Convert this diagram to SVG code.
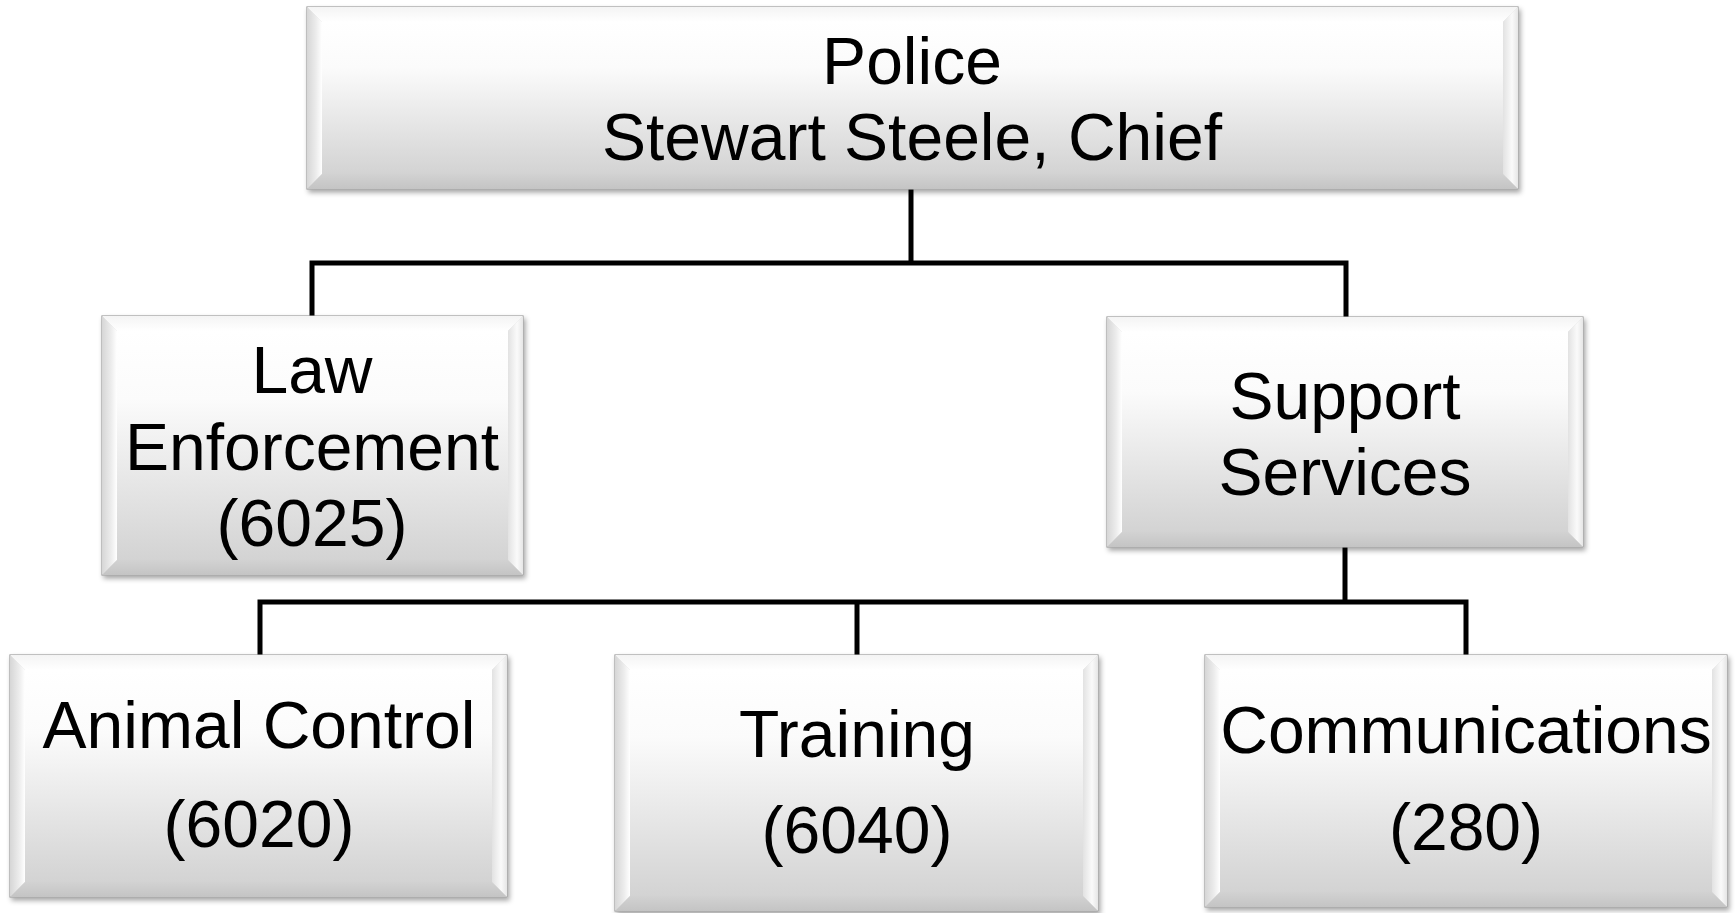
<svg xmlns="http://www.w3.org/2000/svg" width="1735" height="913" viewBox="0 0 1735 913">
<defs>
<style>
.face{fill:url(#gFace)}
.outer{fill:#dcdcdc;stroke:#9c9c9c;stroke-width:1.2;filter:url(#sh)}
.bt{fill:url(#gTop)}
.bl{fill:url(#gLeft)}
.br{fill:url(#gRight)}
.bb{fill:url(#gBot)}
.lbl{font-family:"Liberation Sans",Arial,sans-serif;font-size:66px;fill:#000;text-anchor:middle}
.conn{fill:none;stroke:#000;stroke-width:5;stroke-linejoin:miter;stroke-linecap:butt}
</style>
<filter id="sh" x="-5%" y="-5%" width="110%" height="115%">
<feDropShadow dx="2" dy="3" stdDeviation="2.5" flood-color="#000" flood-opacity="0.35"/>
</filter>
<linearGradient id="gFace" x1="0" y1="0" x2="0" y2="1">
<stop offset="0" stop-color="#ffffff"/>
<stop offset="0.3" stop-color="#fbfbfb"/>
<stop offset="1" stop-color="#d3d3d3"/>
</linearGradient>
<linearGradient id="gTop" x1="0" y1="0" x2="0" y2="1">
<stop offset="0" stop-color="#f4f4f4"/>
<stop offset="1" stop-color="#ffffff"/>
</linearGradient>
<linearGradient id="gLeft" x1="0" y1="0" x2="1" y2="0">
<stop offset="0" stop-color="#d6d6d6"/>
<stop offset="0.6" stop-color="#ececec"/>
<stop offset="1" stop-color="#ffffff"/>
</linearGradient>
<linearGradient id="gRight" x1="0" y1="0" x2="1" y2="0">
<stop offset="0" stop-color="#e2e2e2"/>
<stop offset="0.6" stop-color="#fafafa"/>
<stop offset="1" stop-color="#e6e6e6"/>
</linearGradient>
<linearGradient id="gBot" x1="0" y1="0" x2="0" y2="1">
<stop offset="0" stop-color="#d2d2d2"/>
<stop offset="1" stop-color="#c4c4c4"/>
</linearGradient>
</defs>
<rect width="1735" height="913" fill="#ffffff"/>

<g id="connectors">
<path class="conn" d="M911,189 V263"/>
<path class="conn" d="M312,316 V263 H1346 V317"/>
<path class="conn" d="M1345,547 V602"/>
<path class="conn" d="M260,655 V602 H1466 V655"/>
<path class="conn" d="M857,602 V655"/>
</g>

<g id="police">
<rect class="outer" x="307" y="7" width="1211" height="182"/>
<polygon class="bt" points="307,7 1518,7 1503,22 322,22"/>
<polygon class="bl" points="307,7 322,22 322,174 307,189"/>
<polygon class="br" points="1503,22 1518,7 1518,189 1503,174"/>
<polygon class="bb" points="322,174 1503,174 1518,189 307,189"/>
<rect class="face" x="322" y="22" width="1181" height="152"/>
<text class="lbl" x="912" y="84">Police</text>
<text class="lbl" x="912" y="160">Stewart Steele, Chief</text>
</g>

<g id="law">
<rect class="outer" x="102" y="316" width="421" height="259"/>
<polygon class="bt" points="102,316 523,316 508,331 117,331"/>
<polygon class="bl" points="102,316 117,331 117,560 102,575"/>
<polygon class="br" points="508,331 523,316 523,575 508,560"/>
<polygon class="bb" points="117,560 508,560 523,575 102,575"/>
<rect class="face" x="117" y="331" width="391" height="229"/>
<text class="lbl" x="312" y="393">Law</text>
<text class="lbl" x="312" y="470">Enforcement</text>
<text class="lbl" x="312" y="546">(6025)</text>
</g>

<g id="support">
<rect class="outer" x="1107" y="317" width="476" height="230"/>
<polygon class="bt" points="1107,317 1583,317 1568,332 1122,332"/>
<polygon class="bl" points="1107,317 1122,332 1122,532 1107,547"/>
<polygon class="br" points="1568,332 1583,317 1583,547 1568,532"/>
<polygon class="bb" points="1122,532 1568,532 1583,547 1107,547"/>
<rect class="face" x="1122" y="332" width="446" height="200"/>
<text class="lbl" x="1345" y="419">Support</text>
<text class="lbl" x="1345" y="495">Services</text>
</g>

<g id="animal">
<rect class="outer" x="10" y="655" width="497" height="242"/>
<polygon class="bt" points="10,655 507,655 492,670 25,670"/>
<polygon class="bl" points="10,655 25,670 25,882 10,897"/>
<polygon class="br" points="492,670 507,655 507,897 492,882"/>
<polygon class="bb" points="25,882 492,882 507,897 10,897"/>
<rect class="face" x="25" y="670" width="467" height="212"/>
<text class="lbl" x="259" y="748">Animal Control</text>
<text class="lbl" x="259" y="847">(6020)</text>
</g>

<g id="training">
<rect class="outer" x="615" y="655" width="483" height="256"/>
<polygon class="bt" points="615,655 1098,655 1083,670 630,670"/>
<polygon class="bl" points="615,655 630,670 630,896 615,911"/>
<polygon class="br" points="1083,670 1098,655 1098,911 1083,896"/>
<polygon class="bb" points="630,896 1083,896 1098,911 615,911"/>
<rect class="face" x="630" y="670" width="453" height="226"/>
<text class="lbl" x="857" y="757">Training</text>
<text class="lbl" x="857" y="853">(6040)</text>
</g>

<g id="communications">
<rect class="outer" x="1205" y="655" width="522" height="252"/>
<polygon class="bt" points="1205,655 1727,655 1712,670 1220,670"/>
<polygon class="bl" points="1205,655 1220,670 1220,892 1205,907"/>
<polygon class="br" points="1712,670 1727,655 1727,907 1712,892"/>
<polygon class="bb" points="1220,892 1712,892 1727,907 1205,907"/>
<rect class="face" x="1220" y="670" width="492" height="222"/>
<text class="lbl" x="1466" y="753">Communications</text>
<text class="lbl" x="1466" y="850">(280)</text>
</g>
</svg>
